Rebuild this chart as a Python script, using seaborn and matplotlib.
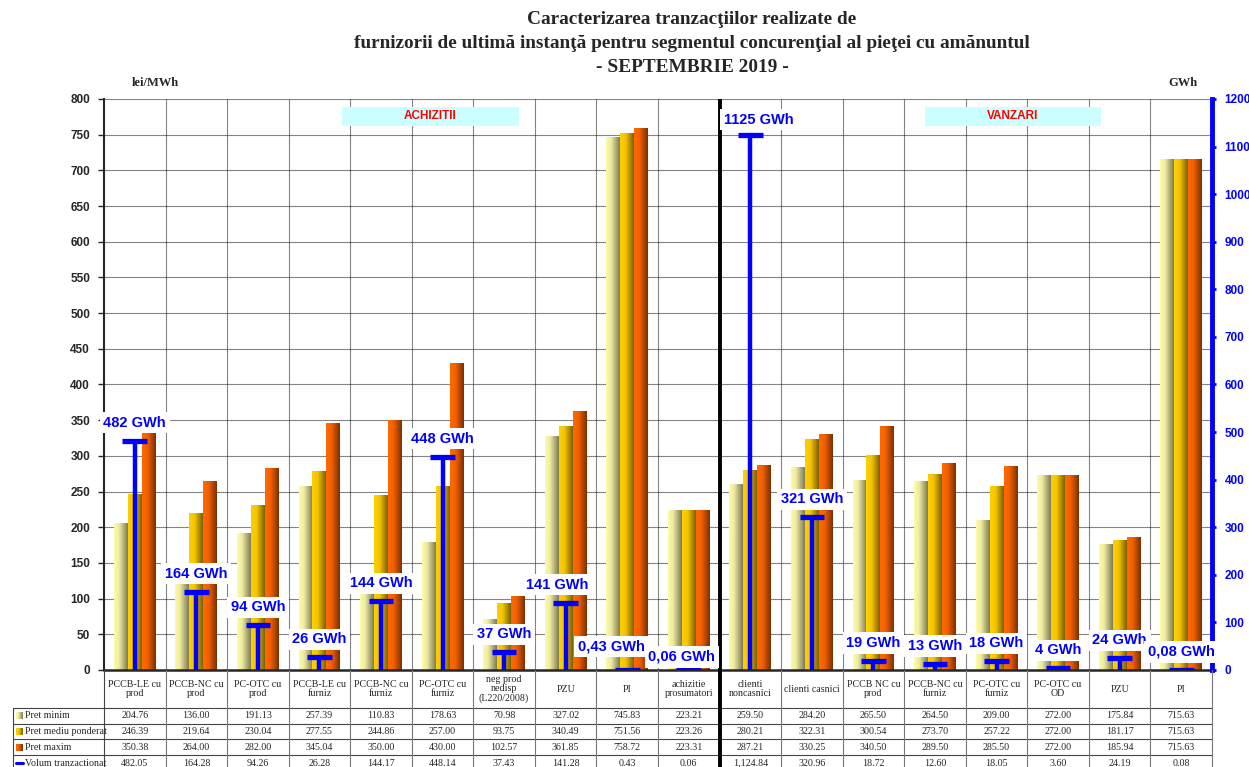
import numpy as np
import pandas as pd
import matplotlib
matplotlib.use("Agg")
import matplotlib.pyplot as plt
import seaborn as sns
from matplotlib.colors import LinearSegmentedColormap
from matplotlib.patches import Rectangle

categorii = ["PCCB-LE cu\nprod", "PCCB-NC cu\nprod", "PC-OTC cu\nprod", "PCCB-LE cu\nfurniz",
             "PCCB-NC cu\nfurniz", "PC-OTC cu\nfurniz", "neg prod\nnedisp\n(L220/2008)", "PZU", "PI",
             "achizitie\nprosumatori", "clienti\nnoncasnici", "clienti casnici", "PCCB NC cu\nprod",
             "PCCB-NC cu\nfurniz", "PC-OTC cu\nfurniz", "PC-OTC cu\nOD", "PZU", "PI"]
pret_minim = [204.76, 136.00, 191.13, 257.39, 110.83, 178.63, 70.98, 327.02, 745.83, 223.21,
              259.50, 284.20, 265.50, 264.50, 209.00, 272.00, 175.84, 715.63]
pret_mediu = [246.39, 219.64, 230.04, 277.55, 244.86, 257.00, 93.75, 340.49, 751.56, 223.26,
              280.21, 322.31, 300.54, 273.70, 257.22, 272.00, 181.17, 715.63]
pret_maxim = [350.38, 264.00, 282.00, 345.04, 350.00, 430.00, 102.57, 361.85, 758.72, 223.31,
              287.21, 330.25, 340.50, 289.50, 285.50, 272.00, 185.94, 715.63]
volum = [482.05, 164.28, 94.26, 26.28, 144.17, 448.14, 37.43, 141.28, 0.43, 0.06,
         1124.84, 320.96, 18.72, 12.60, 18.05, 3.60, 24.19, 0.08]
serii = ["Pret minim", "Pret mediu ponderat", "Pret maxim"]
rand_volum = "Volum tranzactionat"

W, H = 1249, 767
fig = plt.figure(figsize=(W / 100, H / 100), dpi=100)
sns.set_style("white")
plt.rcParams["font.family"] = ["Liberation Sans", "DejaVu Sans"]
SERIF = ["Liberation Serif", "DejaVu Serif"]

# axa principala (lei/MWh)
ax = fig.add_axes([104 / W, (H - 670) / H, (1212 - 104) / W, 571 / H])
n = len(categorii)
df = pd.DataFrame({
    "idx": np.tile(np.arange(n), 3),
    "serie": np.repeat(serii, n),
    "pret": pret_minim + pret_mediu + pret_maxim,
})
sns.barplot(data=df, x="idx", y="pret", hue="serie", hue_order=serii, width=0.68, gap=0,
            saturation=1, palette=["#f0ec98", "#e0b000", "#e05a00"], legend=False, ax=ax, zorder=2)

gradienti = [
    LinearSegmentedColormap.from_list("g1", [(0, "#fcfca8"), (0.35, "#f0eca0"), (1, "#7c7a58")]),
    LinearSegmentedColormap.from_list("g2", [(0, "#ffd000"), (0.4, "#f4c400"), (1, "#7a6000")]),
    LinearSegmentedColormap.from_list("g3", [(0, "#ff6a00"), (0.4, "#f26000"), (1, "#7a3000")]),
]
grad = np.linspace(0, 1, 128).reshape(1, -1)
for cont, cm in zip(ax.containers, gradienti):
    for p in cont.patches:
        x0, w, h = p.get_x(), p.get_width(), p.get_height()
        p.set_visible(False)
        ax.imshow(grad, cmap=cm, extent=[x0, x0 + w, 0, h], aspect="auto",
                  interpolation="bilinear", zorder=2)

ax.set_xlim(-0.5, n - 0.5)
ax.set_ylim(0, 800)
ax.set_yticks(np.arange(0, 801, 50))
ax.set_xticks(np.arange(n))
ax.set_xticklabels([])
ax.tick_params(axis="x", length=0)
ax.tick_params(axis="y", length=4, width=1, direction="out", pad=6, labelsize=8.5)
for t in ax.get_yticklabels():
    t.set_fontweight("bold")
ax.set_xlabel("")
ax.set_ylabel("")
for y in np.arange(50, 801, 50):
    ax.axhline(y, color="#222222", lw=0.8, ls=(0, (1, 0.8)), zorder=1)
for x in np.arange(0.5, n - 0.5, 1):
    ax.axvline(x, color="#222222", lw=0.8, ls=(0, (1, 0.8)), zorder=1)
ax.spines["top"].set_visible(False)
ax.spines["right"].set_visible(False)
ax.spines["left"].set_linewidth(1.5)
ax.spines["bottom"].set_linewidth(1.8)

# axa secundara (GWh)
ax2 = ax.twinx()
ax2.set_ylim(0, 1200)
ax2.set_yticks(np.arange(0, 1201, 100))
ax2.tick_params(axis="y", colors="#0000ff", length=3, width=2, pad=6, labelsize=8.5)
for t in ax2.get_yticklabels():
    t.set_fontweight("bold")
for s in ["top", "left", "bottom"]:
    ax2.spines[s].set_visible(False)
ax2.spines["right"].set_color("#0000ff")
ax2.spines["right"].set_linewidth(3.5)

xs = np.arange(n)
ax2.vlines(xs, 0, volum, color="#0000ff", lw=3.2, zorder=5)
ax2.hlines(volum, xs - 0.2, xs + 0.2, color="#0000ff", lw=3.8, zorder=5)
deplasare = {8: (-16, 23), 9: (-7, 13), 10: (8, 15), 7: (-8, 18)}
for i, v in enumerate(volum):
    txt = f"{round(v)} GWh" if v >= 1 else f"{v:.2f}".replace(".", ",") + " GWh"
    ax2.annotate(txt, (i, v), xytext=deplasare.get(i, (0, 18)), textcoords="offset pixels",
                 ha="center", va="center", color="#0000ff", fontsize=10.5, fontweight="bold",
                 zorder=6, bbox=dict(boxstyle="square,pad=0.25", fc="white", ec="none"))

# separator achizitii / vanzari
ax.axvline(9.5, color="black", lw=2.8, zorder=4)

# etichete sectiuni
for x0, x1, lab in [(3.366, 6.24, "ACHIZITII"), (12.837, 15.70, "VANZARI")]:
    ax.add_patch(Rectangle((x0, 762.2), x1 - x0, 26.6, fc="#ccffff", ec="none", zorder=3))
    ax.text((x0 + x1) / 2, 775.5, lab, ha="center", va="center", color="red", fontsize=8.5,
            fontweight="bold", zorder=3, family=["Liberation Sans Narrow", "Liberation Sans"])

# titlu
fig.text(692 / W, 1 - 20 / H, "Caracterizarea tranzacţiilor realizate de", ha="center", va="center",
         fontsize=13.9, fontweight="bold", family=SERIF)
fig.text(692 / W, 1 - 44 / H,
         "furnizorii de ultimă instanţă pentru segmentul concurenţial al pieţei cu amănuntul",
         ha="center", va="center", fontsize=13.9, fontweight="bold", family=SERIF)
fig.text(692 / W, 1 - 67 / H, "- SEPTEMBRIE 2019 -", ha="center", va="center",
         fontsize=13.9, fontweight="bold", family=SERIF)
fig.text(155 / W, 1 - 83 / H, "lei/MWh", ha="center", va="center", fontsize=9,
         fontweight="bold", family=SERIF)
fig.text(1183 / W, 1 - 83 / H, "GWh", ha="center", va="center", fontsize=9,
         fontweight="bold", family=SERIF)

# tabel de date (aceeasi scala x ca axa principala, y in pixeli)
tax = fig.add_axes([0, 0, 1, (H - 670) / H])
u = n / (1212 - 104)
tax.set_xlim(-0.5 - 104 * u, n - 0.5 + (W - 1212) * u)
tax.set_ylim(H, 670)
tax.axis("off")
x_left = -0.5 - (104 - 13) * u
rows_y = [707.7, 723.5, 739.3, 755.1, 771]
for y in rows_y:
    tax.plot([x_left, n - 0.5], [y, y], color="#444444", lw=0.8, clip_on=False)
tax.plot([x_left, x_left], [rows_y[0], H], color="#444444", lw=0.8, clip_on=False)
for x in np.arange(-0.5, n, 1):
    tax.plot([x, x], [670, H], color="#777777" if x != -0.5 else "#444444", lw=0.8, clip_on=False)
tax.plot([9.5, 9.5], [670, H], color="black", lw=2.8, clip_on=False)

for i, c in enumerate(categorii):
    tax.text(i, 689, c, ha="center", va="center", fontsize=7.2, family=SERIF, linespacing=1.05)
valori = [pret_minim, pret_mediu, pret_maxim, volum]
for r, vals in enumerate(valori):
    yc = (rows_y[r] + rows_y[r + 1]) / 2
    for i, v in enumerate(vals):
        tax.text(i, yc, f"{v:,.2f}", ha="center", va="center", fontsize=7.2, family=SERIF)

w_key = 7 * u
for r, (lab, cm) in enumerate(zip(serii + [rand_volum], gradienti + [None])):
    yc = (rows_y[r] + rows_y[r + 1]) / 2
    kx = x_left + 3 * u
    if cm is not None:
        tax.imshow(grad, cmap=cm, extent=[kx, kx + w_key, yc + 3.5, yc - 3.5], aspect="auto",
                   interpolation="bilinear", clip_on=False)
    else:
        tax.plot([kx, kx + w_key], [yc, yc], color="#0000ff", lw=2.2, clip_on=False)
    tax.text(kx + w_key + 2 * u, yc, lab, ha="left", va="center", fontsize=7.2, family=SERIF)
tax.set_xlim(-0.5 - 104 * u, n - 0.5 + (W - 1212) * u)
tax.set_ylim(H, 670)

fig.savefig("out.png", dpi=100)
